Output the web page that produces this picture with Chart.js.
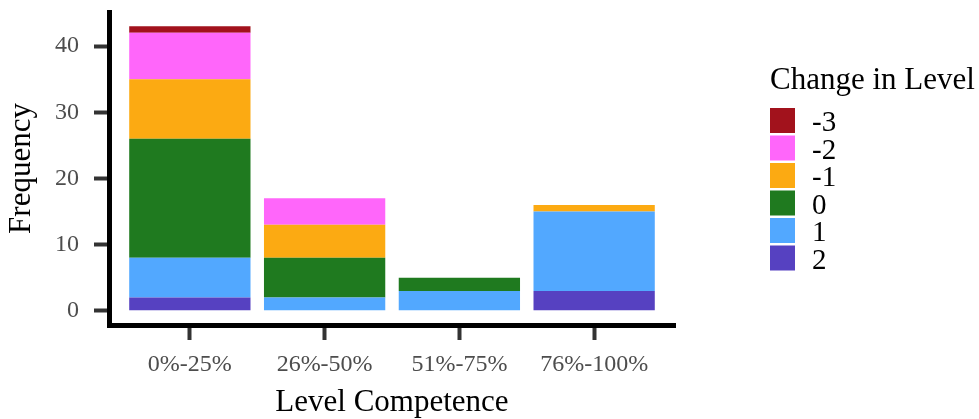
<!DOCTYPE html>
<html>
<head>
<meta charset="utf-8">
<script src="https://cdn.jsdelivr.net/npm/chart.js@4.4.1/dist/chart.umd.min.js"></script>
<style>
  html, body { margin: 0; padding: 0; background: #fff; }
  #wrap { width: 979px; height: 419px; }
</style>
</head>
<body>
<div id="wrap"><canvas id="chart" width="979" height="419"></canvas></div>
<script>
// data
const categories = ['0%-25%', '26%-50%', '51%-75%', '76%-100%'];
const levels = ['2', '1', '0', '-1', '-2', '-3']; // bottom of the stack first
const levelColors = ['#5641C1', '#52A8FF', '#1F7A1F', '#FCAA12', '#FF66FA', '#A2121C'];
const change2 = [2, 0, 0, 3];
const change1 = [6, 2, 3, 12];
const change0 = [18, 6, 2, 0];
const changeM1 = [9, 5, 0, 1];
const changeM2 = [7, 4, 0, 0];
const changeM3 = [1, 0, 0, 0];
const yTicks = [0, 10, 20, 30, 40];

const serif = "'Liberation Serif', 'Times New Roman', serif";
const series = [change2, change1, change0, changeM1, changeM2, changeM3];

// legend on the right, drawn on the canvas (top of the stack first)
const sideLegend = {
  id: 'sideLegend',
  afterDraw(chart) {
    const ctx = chart.ctx;
    const x0 = 770, top = 108, box = 25, step = 27.5;
    ctx.save();
    ctx.fillStyle = '#000';
    ctx.textBaseline = 'alphabetic';
    ctx.textAlign = 'left';
    ctx.font = '31px ' + serif;
    ctx.fillText('Change in Level', x0, 89);
    const sets = chart.data.datasets.slice().reverse();
    sets.forEach((ds, i) => {
      const y = top + i * step;
      ctx.fillStyle = ds.backgroundColor;
      ctx.fillRect(x0, y, box, box);
      ctx.fillStyle = '#000';
      ctx.font = '29px ' + serif;
      ctx.fillText(ds.label, x0 + 42, y + 23);
    });
    ctx.restore();
  }
};

new Chart('chart', {
  type: 'bar',
  data: {
    datasets: levels.map((lv, k) => ({
      label: lv,
      data: series[k].map((v, i) => ({ x: i + 1, y: v })),
      backgroundColor: levelColors[k],
      borderWidth: 0,
      categoryPercentage: 0.9,
      barPercentage: 1
    }))
  },
  options: {
    responsive: false,
    animation: false,
    layout: { padding: { top: 12, right: 304, left: 0, bottom: 0 } },
    plugins: { legend: { display: false }, tooltip: { enabled: false } },
    scales: {
      x: {
        type: 'linear', min: 0.4, max: 4.6, stacked: true, offset: false,
        afterBuildTicks: s => { s.ticks = categories.map((c, i) => ({ value: i + 1 })); },
        afterFit: s => { s.height = 94; s.paddingLeft = 0; s.paddingRight = 0; },
        grid: { drawOnChartArea: false, drawTicks: true, tickLength: 15, tickWidth: 4, tickColor: '#333333', offset: false },
        border: { display: true, color: '#000', width: 5 },
        ticks: {
          callback: v => categories[v - 1],
          color: '#4D4D4D', font: { family: serif, size: 24 }, padding: 10,
          maxRotation: 0, autoSkip: false
        },
        title: {
          display: true, text: 'Level Competence', color: '#000',
          font: { family: serif, size: 31, lineHeight: 1.05 }, padding: { top: 0, bottom: 0 }
        }
      },
      y: {
        min: -2.15, max: 45.15, stacked: true,
        afterBuildTicks: s => { s.ticks = yTicks.map(v => ({ value: v })); },
        afterFit: s => { s.width = 109; s.paddingTop = 0; s.paddingBottom = 0; },
        grid: { drawOnChartArea: false, drawTicks: true, tickLength: 15, tickWidth: 4, tickColor: '#333333' },
        border: { display: true, color: '#000', width: 5 },
        ticks: { color: '#4D4D4D', font: { family: serif, size: 24 }, padding: 15 },
        title: {
          display: true, text: 'Frequency', color: '#000',
          font: { family: serif, size: 31, lineHeight: 1.05 }, padding: { top: 6, bottom: 0 }
        }
      }
    }
  },
  plugins: [sideLegend]
});
</script>
</body>
</html>
